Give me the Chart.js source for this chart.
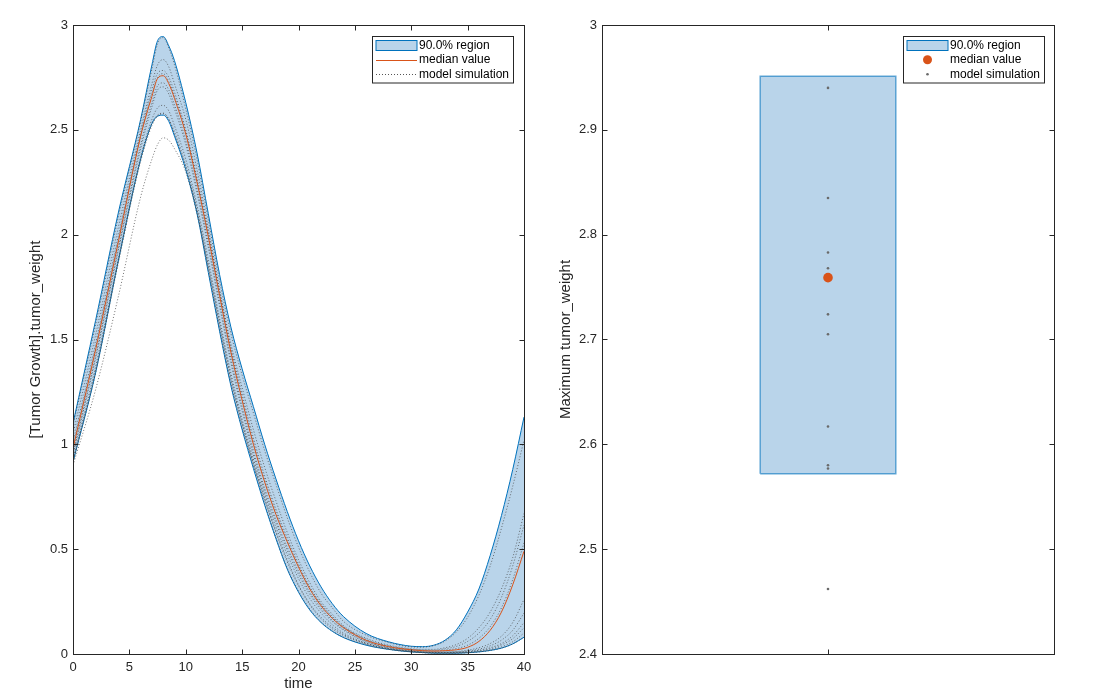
<!DOCTYPE html>
<html>
<head>
<meta charset="utf-8">
<title>Tumor Growth simulation</title>
<script src="https://cdn.jsdelivr.net/npm/chart.js@4.4.1/dist/chart.umd.min.js"></script>
<style>
  html, body { margin: 0; padding: 0; background: #fff; }
  #wrap { position: relative; width: 1116px; height: 698px; }
  #leftChart { position: absolute; left: 0; top: 0; }
  #rightChart { position: absolute; left: 556px; top: 0; }
</style>
</head>
<body>
<div id="wrap">
  <canvas id="leftChart" width="556" height="698"></canvas>
  <canvas id="rightChart" width="560" height="698"></canvas>
</div>
<script>
// Sample times (days)
const times = [0, 2, 4, 6, 7, 7.5, 8, 8.5, 9, 10, 11, 12, 13, 14, 15, 16, 17, 18, 19, 20, 21, 22, 23, 24, 26, 28, 30, 31, 32, 33, 34, 35, 36, 37, 38, 39, 40];

// 90% region bounds and median of tumor_weight
const regionUpper = [1.10, 1.59, 2.10, 2.55, 2.81, 2.925, 2.945, 2.90, 2.83, 2.63, 2.39, 2.10, 1.81, 1.56, 1.36, 1.18, 1.00, 0.835, 0.68, 0.54, 0.42, 0.32, 0.24, 0.178, 0.098, 0.058, 0.037, 0.035, 0.042, 0.066, 0.115, 0.20, 0.31, 0.47, 0.66, 0.88, 1.13];
const regionLower = [0.915, 1.34, 1.87, 2.36, 2.53, 2.565, 2.57, 2.54, 2.47, 2.31, 2.10, 1.82, 1.54, 1.28, 1.07, 0.885, 0.71, 0.55, 0.405, 0.295, 0.21, 0.15, 0.108, 0.078, 0.042, 0.022, 0.01, 0.007, 0.004, 0.004, 0.004, 0.006, 0.01, 0.017, 0.028, 0.048, 0.08];
const medianValue = [0.98, 1.45, 1.96, 2.47, 2.66, 2.745, 2.758, 2.72, 2.65, 2.48, 2.25, 1.99, 1.71, 1.44, 1.21, 1.00, 0.82, 0.665, 0.535, 0.415, 0.31, 0.23, 0.17, 0.125, 0.065, 0.035, 0.02, 0.016, 0.014, 0.016, 0.02, 0.032, 0.06, 0.113, 0.20, 0.33, 0.49];

// Individual model simulations
const sim1 = [1.09, 1.57, 2.08, 2.54, 2.79, 2.91, 2.94, 2.89, 2.81, 2.60, 2.36, 2.07, 1.78, 1.53, 1.33, 1.15, 0.97, 0.81, 0.65, 0.51, 0.39, 0.29, 0.22, 0.155, 0.09, 0.055, 0.034, 0.033, 0.04, 0.062, 0.105, 0.175, 0.28, 0.42, 0.60, 0.80, 1.02];
const sim2 = [1.05, 1.52, 2.03, 2.50, 2.72, 2.81, 2.835, 2.80, 2.72, 2.55, 2.31, 2.03, 1.74, 1.48, 1.27, 1.07, 0.89, 0.73, 0.58, 0.45, 0.34, 0.25, 0.19, 0.135, 0.075, 0.042, 0.025, 0.022, 0.022, 0.03, 0.045, 0.075, 0.125, 0.20, 0.31, 0.46, 0.67];
const sim3 = [1.01, 1.48, 1.99, 2.48, 2.69, 2.77, 2.783, 2.75, 2.68, 2.50, 2.27, 2.01, 1.73, 1.46, 1.24, 1.03, 0.85, 0.69, 0.555, 0.43, 0.32, 0.24, 0.18, 0.13, 0.07, 0.038, 0.022, 0.019, 0.018, 0.025, 0.036, 0.06, 0.10, 0.165, 0.27, 0.42, 0.615];
const sim4 = [0.99, 1.46, 1.97, 2.47, 2.67, 2.75, 2.768, 2.73, 2.66, 2.49, 2.26, 2.00, 1.72, 1.45, 1.22, 1.01, 0.83, 0.675, 0.54, 0.42, 0.315, 0.235, 0.175, 0.127, 0.067, 0.036, 0.02, 0.017, 0.015, 0.019, 0.026, 0.042, 0.075, 0.13, 0.22, 0.355, 0.53];
const sim5 = [0.96, 1.42, 1.93, 2.43, 2.63, 2.71, 2.724, 2.69, 2.62, 2.45, 2.22, 1.96, 1.68, 1.41, 1.18, 0.97, 0.79, 0.64, 0.51, 0.395, 0.295, 0.22, 0.16, 0.118, 0.06, 0.031, 0.016, 0.012, 0.01, 0.01, 0.012, 0.018, 0.03, 0.05, 0.085, 0.15, 0.26];
const sim6 = [0.95, 1.41, 1.92, 2.41, 2.61, 2.69, 2.705, 2.67, 2.60, 2.43, 2.20, 1.94, 1.66, 1.39, 1.16, 0.95, 0.775, 0.625, 0.495, 0.38, 0.285, 0.21, 0.155, 0.113, 0.057, 0.029, 0.015, 0.011, 0.009, 0.009, 0.01, 0.014, 0.023, 0.039, 0.066, 0.113, 0.195];
const sim7 = [0.93, 1.37, 1.88, 2.37, 2.55, 2.605, 2.617, 2.59, 2.52, 2.36, 2.14, 1.88, 1.60, 1.34, 1.12, 0.93, 0.76, 0.605, 0.475, 0.36, 0.265, 0.195, 0.14, 0.10, 0.052, 0.026, 0.013, 0.009, 0.007, 0.007, 0.008, 0.011, 0.018, 0.03, 0.05, 0.087, 0.15];
const sim8 = [0.92, 1.35, 1.87, 2.36, 2.53, 2.57, 2.58, 2.55, 2.49, 2.33, 2.12, 1.85, 1.57, 1.31, 1.10, 0.91, 0.74, 0.58, 0.44, 0.325, 0.235, 0.168, 0.12, 0.088, 0.048, 0.024, 0.011, 0.007, 0.005, 0.0045, 0.005, 0.007, 0.012, 0.02, 0.034, 0.058, 0.10];
const sim9 = [0.915, 1.34, 1.86, 2.35, 2.52, 2.565, 2.577, 2.55, 2.48, 2.32, 2.11, 1.83, 1.55, 1.29, 1.08, 0.90, 0.72, 0.555, 0.41, 0.30, 0.215, 0.153, 0.11, 0.08, 0.044, 0.022, 0.01, 0.006, 0.004, 0.0035, 0.004, 0.006, 0.01, 0.017, 0.028, 0.048, 0.08];
const sim10 = [0.90, 1.26, 1.70, 2.18, 2.36, 2.43, 2.462, 2.45, 2.41, 2.30, 2.10, 1.85, 1.58, 1.32, 1.10, 0.91, 0.74, 0.585, 0.45, 0.33, 0.24, 0.175, 0.128, 0.093, 0.05, 0.025, 0.012, 0.008, 0.006, 0.005, 0.006, 0.009, 0.015, 0.025, 0.043, 0.073, 0.125];
const simulations = [sim1, sim2, sim3, sim4, sim5, sim6, sim7, sim8, sim9, sim10];

// Maximum tumor_weight per simulation, its median and 90% region
const maxValues = [2.940, 2.835, 2.783, 2.768, 2.724, 2.705, 2.617, 2.580, 2.577, 2.462];
const maxMedian = 2.759;
const maxRegion = [2.572, 2.951];

// styles
const BLUE = '#0072BD';
const REGION_FILL = '#B9D4EA';
const ORANGE = '#D95319';
const SIM_GRAY = 'rgba(70,70,70,0.75)';
const AXIS_COLOR = '#262626';
const FONT = '"Liberation Sans", Arial, Helvetica, sans-serif';
const BOX_HALF_WIDTH = 0.3;

const toPoints = (ys) => times.map((t, i) => ({ x: t, y: ys[i] }));
const fmt = (v) => String(Math.round(v * 10) / 10);

// box around the axes with inward ticks, matlab style
const matlabAxes = {
  id: 'matlabAxes',
  afterDraw(chart) {
    const { ctx, chartArea: a, scales: { x, y } } = chart;
    const len = 5;
    const L = Math.round(a.left) + 0.5, R = Math.round(a.right) + 0.5;
    const T = Math.round(a.top) + 0.5, B = Math.round(a.bottom) + 0.5;
    ctx.save();
    ctx.strokeStyle = AXIS_COLOR;
    ctx.lineWidth = 1;
    ctx.beginPath();
    x.ticks.forEach(t => {
      const px = Math.round(x.getPixelForValue(t.value)) + 0.5;
      ctx.moveTo(px, B); ctx.lineTo(px, B - len);
      ctx.moveTo(px, T); ctx.lineTo(px, T + len);
    });
    y.ticks.forEach(t => {
      const py = Math.round(y.getPixelForValue(t.value)) + 0.5;
      ctx.moveTo(L, py); ctx.lineTo(L + len, py);
      ctx.moveTo(R, py); ctx.lineTo(R - len, py);
    });
    ctx.stroke();
    ctx.strokeRect(L, T, R - L, B - T);
    ctx.restore();
  }
};

const matlabLegend = {
  id: 'matlabLegend',
  afterDraw(chart, args, opts) {
    if (!opts.items) return;
    const { ctx, chartArea: a } = chart;
    const w = 141, rowH = 14.5, padY = 1.5;
    const h = opts.items.length * rowH + padY * 2;
    const x0 = Math.round(a.right - opts.offset - w) + 0.5;
    const y0 = Math.round(a.top + 11) + 0.5;
    ctx.save();
    ctx.fillStyle = '#fff';
    ctx.fillRect(x0, y0, w, h);
    ctx.strokeStyle = AXIS_COLOR;
    ctx.lineWidth = 1;
    ctx.strokeRect(x0, y0, w, h);
    ctx.font = '12px ' + FONT;
    ctx.textBaseline = 'middle';
    opts.items.forEach((it, i) => {
      const cy = y0 + padY + rowH * (i + 0.5);
      const sx = x0 + 3.5, sw = 41;
      if (it.type === 'patch') {
        ctx.fillStyle = REGION_FILL;
        ctx.fillRect(sx, Math.round(cy - 5) + 0.5, sw, 10);
        ctx.strokeStyle = it.color;
        ctx.strokeRect(sx, Math.round(cy - 5) + 0.5, sw, 10);
      } else if (it.type === 'line') {
        ctx.strokeStyle = it.color;
        ctx.setLineDash(it.dash || []);
        ctx.beginPath();
        ctx.moveTo(sx, Math.round(cy) + 0.5);
        ctx.lineTo(sx + sw, Math.round(cy) + 0.5);
        ctx.stroke();
        ctx.setLineDash([]);
      } else if (it.type === 'marker') {
        ctx.fillStyle = it.color;
        ctx.beginPath();
        ctx.arc(sx + sw / 2, cy, it.radius, 0, Math.PI * 2);
        ctx.fill();
      }
      ctx.fillStyle = '#000';
      ctx.fillText(it.text, sx + sw + 2, cy);
    });
    ctx.restore();
  }
};

const tickFont = { family: FONT, size: 13 };
const titleFont = { family: FONT, size: 15 };

// left: time course
new Chart(document.getElementById('leftChart'), {
  type: 'line',
  data: {
    datasets: [
      { label: '90.0% region', data: toPoints(regionUpper), borderColor: BLUE, backgroundColor: REGION_FILL, fill: 1, order: 3 },
      { label: '90.0% region', data: toPoints(regionLower), borderColor: BLUE, fill: false, order: 3 },
      { label: 'median value', data: toPoints(medianValue), borderColor: ORANGE, fill: false, order: 1 },
      ...simulations.map(s => ({
        label: 'model simulation', data: toPoints(s), borderColor: SIM_GRAY,
        borderDash: [1, 2], fill: false, order: 2
      }))
    ]
  },
  options: {
    responsive: false,
    animation: false,
    layout: { padding: { top: 25, right: 32, left: 0, bottom: 0 } },
    elements: {
      line: { borderWidth: 1, cubicInterpolationMode: 'monotone' },
      point: { radius: 0, hoverRadius: 0 }
    },
    scales: {
      x: {
        type: 'linear', min: 0, max: 40,
        grid: { display: false, drawTicks: false },
        border: { display: false },
        ticks: { stepSize: 5, padding: 6, color: AXIS_COLOR, font: tickFont, callback: fmt, maxRotation: 0 },
        title: { display: true, text: 'time', color: AXIS_COLOR, font: titleFont, padding: { top: 0, bottom: 5 } },
        afterFit: (s) => { s.height = 44; }
      },
      y: {
        min: 0, max: 3,
        grid: { display: false, drawTicks: false },
        border: { display: false },
        ticks: { stepSize: 0.5, padding: 5, color: AXIS_COLOR, font: tickFont, callback: fmt },
        title: { display: true, text: '[Tumor Growth].tumor_weight', color: AXIS_COLOR, font: titleFont, padding: { top: 27, bottom: 0 } },
        afterFit: (s) => { s.width = 73; }
      }
    },
    plugins: {
      legend: { display: false },
      tooltip: { enabled: false },
      filler: { drawTime: 'beforeDatasetsDraw' },
      matlabLegend: {
        offset: 11,
        items: [
          { type: 'patch', text: '90.0% region', color: BLUE },
          { type: 'line', text: 'median value', color: ORANGE },
          { type: 'line', text: 'model simulation', color: '#555', dash: [1, 2] }
        ]
      }
    }
  },
  plugins: [matlabAxes, matlabLegend]
});

// right: maximum tumor weight
const boxLeft = 1 - BOX_HALF_WIDTH, boxRight = 1 + BOX_HALF_WIDTH;
new Chart(document.getElementById('rightChart'), {
  type: 'line',
  data: {
    datasets: [
      {
        label: '90.0% region fill',
        data: [{ x: boxLeft, y: maxRegion[1] }, { x: boxRight, y: maxRegion[1] }],
        borderWidth: 0, borderColor: 'rgba(0,0,0,0)', backgroundColor: REGION_FILL,
        fill: { value: maxRegion[0] }, order: 4
      },
      {
        label: '90.0% region',
        data: [
          { x: boxLeft, y: maxRegion[0] }, { x: boxLeft, y: maxRegion[1] },
          { x: boxRight, y: maxRegion[1] }, { x: boxRight, y: maxRegion[0] },
          { x: boxLeft, y: maxRegion[0] }
        ],
        borderColor: 'rgba(0,114,189,0.6)', borderWidth: 1.5, fill: false, order: 3
      },
      {
        label: 'model simulation',
        data: maxValues.map(v => ({ x: 1, y: v })),
        showLine: false, pointRadius: 1.3, pointBackgroundColor: '#6a6a6a', pointBorderWidth: 0, order: 2
      },
      {
        label: 'median value',
        data: [{ x: 1, y: maxMedian }],
        showLine: false, pointRadius: 4.8, pointBackgroundColor: ORANGE, pointBorderWidth: 0, order: 1
      }
    ]
  },
  options: {
    responsive: false,
    animation: false,
    layout: { padding: { top: 25, right: 62, left: 0, bottom: 0 } },
    elements: {
      line: { tension: 0 },
      point: { radius: 0, hoverRadius: 0 }
    },
    scales: {
      x: {
        type: 'linear', min: 0, max: 2,
        grid: { display: false, drawTicks: false },
        border: { display: false },
        ticks: { display: false },
        afterBuildTicks: (s) => { s.ticks = [{ value: 1 }]; },
        afterFit: (s) => { s.height = 44; }
      },
      y: {
        min: 2.4, max: 3,
        grid: { display: false, drawTicks: false },
        border: { display: false },
        ticks: { stepSize: 0.1, padding: 5, color: AXIS_COLOR, font: tickFont, callback: fmt },
        title: { display: true, text: 'Maximum tumor_weight', color: AXIS_COLOR, font: titleFont, padding: { top: 1, bottom: 0 } },
        afterFit: (s) => { s.width = 46; }
      }
    },
    plugins: {
      legend: { display: false },
      tooltip: { enabled: false },
      filler: { drawTime: 'beforeDatasetsDraw' },
      matlabLegend: {
        offset: 10,
        items: [
          { type: 'patch', text: '90.0% region', color: BLUE },
          { type: 'marker', text: 'median value', color: ORANGE, radius: 4.5 },
          { type: 'marker', text: 'model simulation', color: '#6a6a6a', radius: 1.3 }
        ]
      }
    }
  },
  plugins: [matlabAxes, matlabLegend]
});
</script>
</body>
</html>
